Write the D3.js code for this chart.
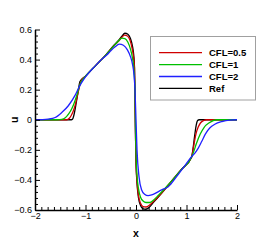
<!DOCTYPE html>
<html><head><meta charset="utf-8">
<script src="https://cdn.jsdelivr.net/npm/d3@7"></script>
<style>html,body{margin:0;padding:0;background:#fff;}svg{display:block;}</style>
</head><body>
<script>
// ---- data ----
const refX = [-2,-1.5,-1.3,-1.26,-1.23,-1.2,-1.17,-1.14,-1.11,-1.0,-0.8,-0.6,-0.45,-0.35,-0.28,-0.22,-0.16,-0.11,-0.07,-0.045,-0.03,-0.02,-0.01,0.0,0.02,0.05,0.09,0.14,0.19,0.25,0.35,0.5,0.7,0.9,1.1,1.13,1.16,1.19,1.22,1.25,1.5,2];
const refU = [0,0,0,0.003,0.03,0.08,0.14,0.2,0.254,0.29,0.36,0.43,0.49,0.525,0.555,0.575,0.568,0.54,0.49,0.43,0.35,0.15,-0.1,-0.28,-0.42,-0.52,-0.57,-0.592,-0.595,-0.585,-0.548,-0.49,-0.41,-0.33,-0.25,-0.19,-0.11,-0.04,-0.005,0,0,0];

const cfl05X = [-2,-1.5,-1.37,-1.32,-1.28,-1.24,-1.21,-1.17,-1.14,-1.11,-1.08,-1.0,-0.8,-0.6,-0.45,-0.35,-0.28,-0.23,-0.17,-0.12,-0.08,-0.05,-0.03,-0.02,-0.01,0.0,0.02,0.05,0.09,0.14,0.2,0.27,0.35,0.5,0.7,0.9,1.1,1.13,1.16,1.19,1.23,1.28,1.34,1.4,1.6,2];
const cfl05U = [0,0,0,0.01,0.03,0.06,0.09,0.145,0.19,0.235,0.262,0.29,0.36,0.43,0.487,0.522,0.548,0.562,0.557,0.53,0.48,0.42,0.34,0.15,-0.1,-0.27,-0.41,-0.505,-0.555,-0.577,-0.58,-0.567,-0.542,-0.49,-0.41,-0.33,-0.25,-0.2,-0.14,-0.09,-0.05,-0.02,-0.005,0,0,0];

const cfl1X = [-2,-1.55,-1.47,-1.4,-1.33,-1.27,-1.22,-1.17,-1.13,-1.1,-1.05,-1.0,-0.8,-0.6,-0.5,-0.42,-0.35,-0.28,-0.22,-0.16,-0.11,-0.07,-0.04,-0.02,-0.01,0.0,0.02,0.05,0.09,0.14,0.2,0.27,0.35,0.45,0.55,0.7,0.9,1.1,1.14,1.2,1.27,1.35,1.45,1.6,2];
const cfl1U = [0,0,0.002,0.013,0.04,0.075,0.115,0.165,0.213,0.243,0.27,0.29,0.36,0.43,0.468,0.498,0.523,0.543,0.54,0.515,0.47,0.41,0.33,0.2,-0.05,-0.22,-0.37,-0.46,-0.515,-0.54,-0.55,-0.55,-0.533,-0.5,-0.465,-0.41,-0.33,-0.25,-0.215,-0.155,-0.097,-0.05,-0.02,0,0];

const cfl2X = [-2,-1.85,-1.74,-1.6,-1.47,-1.34,-1.21,-1.13,-1.08,-1.0,-0.8,-0.65,-0.58,-0.5,-0.42,-0.33,-0.25,-0.17,-0.11,-0.07,-0.04,-0.02,0.0,0.02,0.06,0.11,0.17,0.24,0.31,0.38,0.46,0.55,0.64,0.8,1.0,1.1,1.17,1.23,1.3,1.37,1.46,1.56,1.7,1.86,2];
const cfl2U = [0,0.001,0.004,0.015,0.048,0.093,0.16,0.215,0.245,0.285,0.36,0.41,0.43,0.458,0.483,0.503,0.495,0.465,0.42,0.37,0.3,0.2,0.0,-0.2,-0.38,-0.465,-0.495,-0.505,-0.5,-0.49,-0.475,-0.46,-0.445,-0.38,-0.29,-0.245,-0.22,-0.19,-0.145,-0.097,-0.055,-0.03,-0.012,-0.002,0];

const seriesNames = ["CFL=0.5","CFL=1","CFL=2","Ref"];
const seriesColors = ["#d00000","#00c000","#2020ff","#000000"];
const xTicks = [-2,-1,0,1,2];
const yTicks = [-0.6,-0.4,-0.2,0,0.2,0.4,0.6];
const xLabel = "x";
const yLabel = "u";

// ---- drawing ----
const W = 270, H = 240;
const svg = d3.select("body").append("svg").attr("width", W).attr("height", H);
const x = d3.scaleLinear().domain([-2, 2]).range([35, 237]);
const y = d3.scaleLinear().domain([-0.6, 0.6]).range([210, 29.5]);

const series = [
  {xs: cfl05X, us: cfl05U},
  {xs: cfl1X, us: cfl1U},
  {xs: cfl2X, us: cfl2U},
  {xs: refX, us: refU}
];
const line = d3.line().x(d => x(d[0])).y(d => y(d[1])).curve(d3.curveMonotoneX);
const drawOrder = [3, 0, 1, 2];
drawOrder.forEach(i => {
  const s = series[i];
  svg.append("path")
    .datum(s.xs.map((v, j) => [v, s.us[j]]))
    .attr("d", line)
    .attr("fill", "none")
    .attr("stroke", seriesColors[i])
    .attr("stroke-width", 1.3)
    .attr("stroke-linejoin", "round");
});

const font = "Liberation Sans, Arial, sans-serif";
// minor ticks
const xMinor = d3.range(-2, 2.0001, 0.125).filter(v => Math.abs(v - Math.round(v)) > 1e-6);
const yMinor = d3.range(-0.6, 0.6001, 0.04).filter(v => Math.abs(v*5 - Math.round(v*5)) > 1e-6);
svg.append("g").attr("transform", `translate(0,${y(-0.6)})`)
  .call(d3.axisBottom(x).tickValues(xMinor).tickSize(-3).tickFormat(""))
  .call(g => g.select(".domain").remove());
svg.append("g").attr("transform", `translate(${x(-2)},0)`)
  .call(d3.axisLeft(y).tickValues(yMinor).tickSize(-3).tickFormat(""))
  .call(g => g.select(".domain").remove());

const gx = svg.append("g").attr("transform", `translate(0,${y(-0.6)})`)
  .call(d3.axisBottom(x).tickValues(xTicks).tickSize(-5).tickPadding(3).tickSizeOuter(0).tickFormat(d3.format("d")));
const gy = svg.append("g").attr("transform", `translate(${x(-2)},0)`)
  .call(d3.axisLeft(y).tickValues(yTicks).tickSize(-5).tickPadding(3).tickSizeOuter(0).tickFormat(d => d === 0 ? "0" : d3.format(".1f")(d)));
[gx, gy].forEach(g => {
  g.selectAll("text").attr("font-family", font).attr("font-size", 9).attr("fill", "#000");
  g.select(".domain").attr("stroke-width", 1.5);
  g.selectAll(".tick line").attr("stroke-width", 1);
});
svg.selectAll("g line").attr("stroke", "#000");

svg.append("text").attr("x", x(0)).attr("y", 237)
  .attr("text-anchor", "middle").attr("font-family", font).attr("font-weight", "bold")
  .attr("font-size", 10.5).text(xLabel);
svg.append("text").attr("transform", `translate(18,${y(0)}) rotate(-90)`)
  .attr("text-anchor", "middle").attr("font-family", font).attr("font-weight", "bold")
  .attr("font-size", 10.5).text(yLabel);

// legend
const lg = svg.append("g");
lg.append("rect").attr("x", 150.5).attr("y", 36.5).attr("width", 105).attr("height", 63.5)
  .attr("fill", "#fff").attr("stroke", "#a0a0a0").attr("stroke-width", 1);
seriesNames.forEach((n, i) => {
  const yy = 52.7 + i * 11.9;
  lg.append("line").attr("x1", 159).attr("x2", 202).attr("y1", yy).attr("y2", yy)
    .attr("stroke", seriesColors[i]).attr("stroke-width", 1.3);
  lg.append("text").attr("x", 209).attr("y", yy).attr("dy", "0.35em")
    .attr("font-family", font).attr("font-weight", "bold").attr("font-size", 9.5)
    .attr("fill", "#000").text(n);
});
</script>
</body></html>
